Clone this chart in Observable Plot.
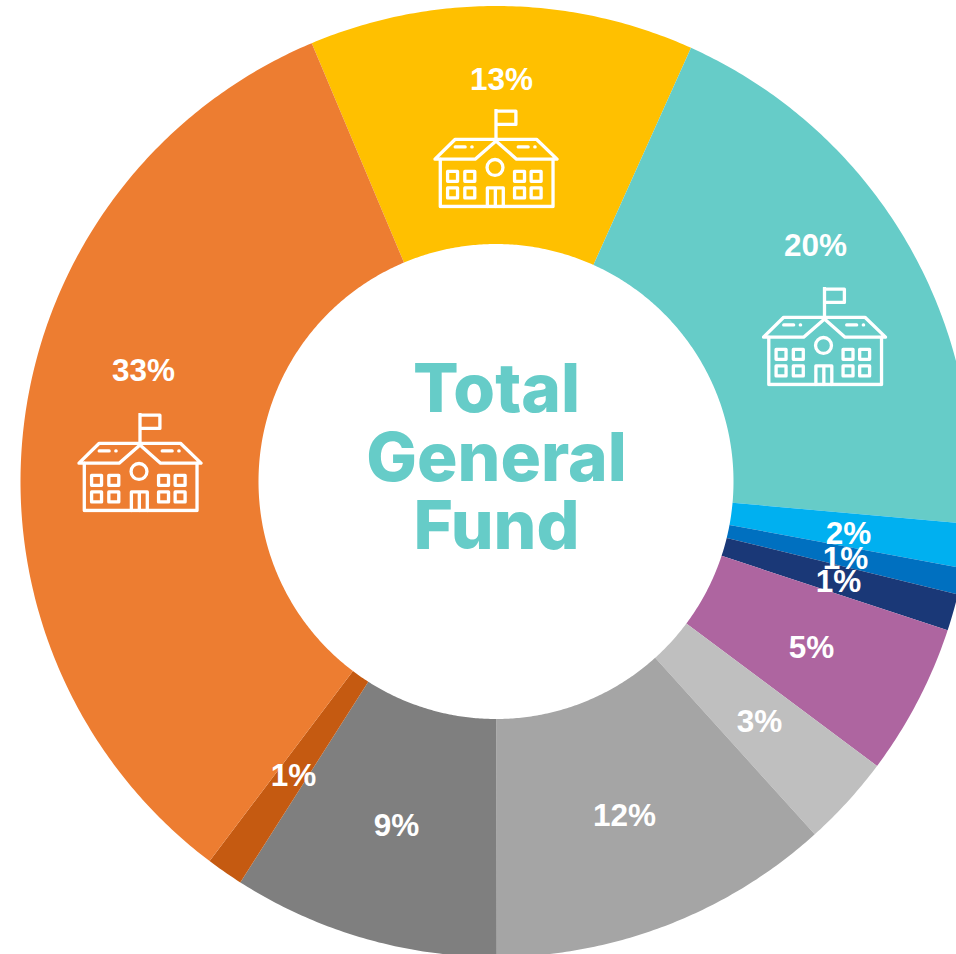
<!DOCTYPE html>
<html>
<head>
<meta charset="utf-8">
<style>html,body{margin:0;padding:0;background:#fff;overflow:hidden}svg{display:block}</style>
<script src="https://cdn.jsdelivr.net/npm/d3@7"></script>
<script src="https://cdn.jsdelivr.net/npm/@observablehq/plot@0.6"></script>
</head>
<body>
<div id="chart"></div>
<script>
const categories = ["a","b","c","d","e","f","g","h","i","j","k"];
const shares = [13.06,19.7,1.5,0.89,1.25,5.14,3.1,11.67,9.06,1.25,33.38];
const labels = ["13%","20%","2%","1%","1%","5%","3%","12%","9%","1%","33%"];
const colors = ["#FFC000","#66CCC8","#00B0F0","#0070C0","#1A3877","#AE65A0","#BFBFBF","#A5A5A5","#7F7F7F","#C55A11","#ED7D31"];
const labelX = [5,319,352,349,342,315,263,128,-100,-203,-353];
const labelY = [-402,-236,52,77,100,166,240,334,344,294,-111];
const iconX = [-0.5,328,-356.5];
const iconY = [-323,-145,-19];
const centerLines = ["Total","General","Fund"];
const centerY = [-91,-22,46];

const startAngle = 337.2, outerR = 475.5, innerR = 237.5;

function pt(deg, r, name){
  const a = deg * Math.PI / 180;
  return {name, x: r * Math.sin(a) - 0.5, y: -r * Math.cos(a)};
}
let cum = 0;
const outline = [];
categories.forEach((name, i) => {
  const a0 = startAngle + cum * 3.6;
  cum += shares[i];
  const a1 = startAngle + cum * 3.6;
  const n = Math.ceil((a1 - a0) / 0.5);
  for (let k = 0; k <= n; k++) outline.push(pt(a0 + (a1 - a0) * k / n, outerR, name));
  for (let k = n; k >= 0; k--) outline.push(pt(a0 + (a1 - a0) * k / n, innerR, name));
});

const windows = [[82,332],[134,332],[82,382],[134,382],[284,332],[334,332],[284,382],[334,382]]
  .map(([x,y]) => `<rect x="${x}" y="${y}" width="30" height="30"/>`).join("");
const iconSvg = `<svg xmlns="http://www.w3.org/2000/svg" viewBox="38 142 380 302" fill="none" stroke="#fff" stroke-width="10" stroke-linejoin="round" stroke-linecap="round">
<path d="M228 240V146M228 150H288V190H228"/>
<path d="M44 295L105 235H350L412 295H290L228 240L165 295H44Z"/>
<path d="M60 295V438H400V295"/>
<path d="M105 258H135M155 258H156M295 258H325M345 258H346"/>
<circle cx="225" cy="320" r="24"/>${windows}
<path d="M202 438V382H250V438M226 382V438"/></svg>`;
const iconSrc = "data:image/svg+xml," + encodeURIComponent(iconSvg);

const chart = Plot.plot({
  width: 956, height: 954,
  margin: 0,
  style: {background: "#fff"},
  x: {domain: [-496, 460], range: [0, 956], axis: null},
  y: {domain: [-481, 473], range: [0, 954], axis: null},
  color: {type: "ordinal", domain: categories, range: colors},
  marks: [
    Plot.line(outline, {x: "x", y: "y", z: "name", fill: "name", stroke: "none", curve: "linear-closed"}),
    Plot.image(iconX.map((x, i) => ({x, y: iconY[i]})), {x: "x", y: "y", src: () => iconSrc, width: 126, height: 100, preserveAspectRatio: "none"}),
    Plot.text(labels.map((t, i) => ({t, x: labelX[i], y: labelY[i]})), {
      x: "x", y: "y", text: "t", fill: "#fff", fontSize: 31.5, fontWeight: 700,
      fontFamily: "'Liberation Sans', Arial, sans-serif", textAnchor: "middle"
    }),
    Plot.text(centerLines.map((t, i) => ({t, y: centerY[i]})), {
      x: () => 0, y: "y", text: "t", fill: "#66CCC8", fontSize: 67.5, fontWeight: 800,
      fontFamily: "Inter, sans-serif", textAnchor: "middle"
    })
  ]
});
document.getElementById("chart").append(chart);
</script>
</body>
</html>
